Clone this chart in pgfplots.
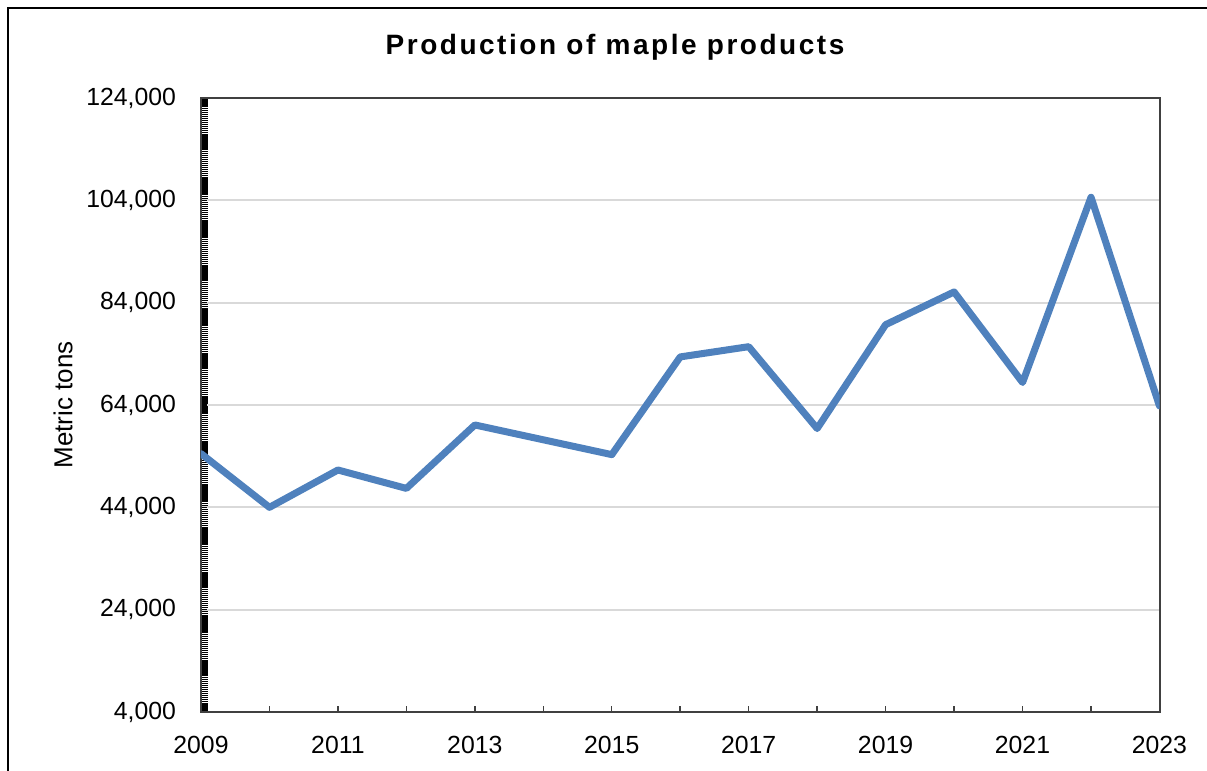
\documentclass[border=0pt]{standalone}
\usepackage{fontspec}
\setmainfont{Liberation Sans}
\newfontfamily\titlefont[LetterSpace=9]{Liberation Sans}
\usepackage{pgfplots}
\pgfplotsset{compat=1.18}
\definecolor{lineblue}{HTML}{4F81BD}
\definecolor{gridgray}{HTML}{D9D9D9}
\begin{document}
\begin{tikzpicture}
\useasboundingbox (0,0) rectangle (603.5pt,-385.5pt);
\draw[line width=1pt, black] (4.15pt,-400pt) -- (4.15pt,-4.15pt) -- (620pt,-4.15pt);
\node[anchor=base, font=\titlefont\bfseries\fontsize{14}{16}\selectfont] at (307.5pt,-27.15pt) {Production of maple products};
\node[rotate=90, font=\fontsize{13}{15}\selectfont] at (31.5pt,-202.5pt) {Metric tons};
\begin{axis}[
  at={(100.5pt,-356pt)}, anchor=south west,
  scale only axis, width=479.25pt, height=307pt,
  xmin=2009, xmax=2023, ymin=4000, ymax=124000,
  xtick={2009,...,2023},
  xticklabels={2009,,2011,,2013,,2015,,2017,,2019,,2021,,2023},
  ytick={4000,24000,44000,64000,84000,104000,124000},
  yticklabels={{4,000},{24,000},{44,000},{64,000},{84,000},{104,000},{124,000}},
  scaled y ticks=false,
  minor y tick num=49,
  xtick pos=bottom, ytick pos=left,
  tick align=inside,
  major tick length=3pt,
  minor tick length=3.5pt,
  xtick style={draw=black!75, line width=0.75pt},
  ytick style={draw=black, line width=0.7pt},
  minor y tick style={draw=black, line width=0.7pt},
  axis line style={draw=black!75, line width=1pt},
  ymajorgrids,
  major grid style={draw=gridgray, line width=1pt},
  ticklabel style={font=\fontsize{12.4}{15}\selectfont, text=black},
  xticklabel style={anchor=base, yshift=-20.5pt},
  yticklabel style={xshift=-9pt},
]
\addplot[lineblue, line width=3.5pt, line join=round, line cap=round] coordinates {
(2009,54500) (2010,44000) (2011,51300) (2012,47700) (2013,60100)
(2014,57200) (2015,54300) (2016,73400) (2017,75400) (2018,59400)
(2019,79700) (2020,86100) (2021,68400) (2022,104600) (2023,63800)
};
\end{axis}
\end{tikzpicture}
\end{document}
